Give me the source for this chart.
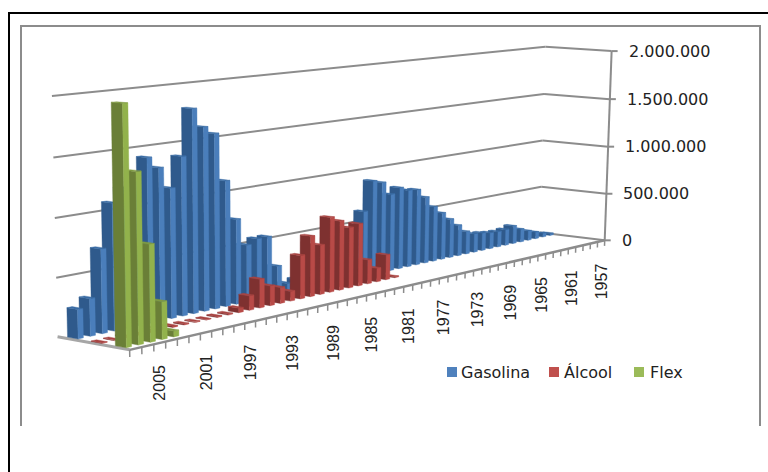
import numpy as np, plotly.graph_objects as go

years = list(range(2007, 1956, -1))
gasolina = [250000,320000,720000,1090000,1200000,1300000,1430000,1330000,1140000,1400000,1800000,1630000,1560000,1130000,770000,520000,560000,560000,270000,90000,110000,190000,100000,70000,80000,300000,450000,630000,910000,880000,750000,800000,760000,750000,660000,550000,470000,390000,310000,230000,190000,180000,165000,160000,165000,185000,135000,100000,70000,40000,20000]
alcool = [4000,5000,10000,12000,15000,15000,10000,8000,6000,5000,8000,10000,40000,130000,260000,180000,145000,90000,400000,560000,460000,700000,650000,570000,590000,230000,130000,240000,10000]+[0]*22
flex = [1990000,1430000,820000,320000,50000]+[0]*46
series_names = ["Gasolina","Álcool","Flex"]
value_ticks = [0,500000,1000000,1500000,2000000]
W,H = 768,472
VMAX = 2000000
Y0,Y1 = 1956.5,2007.5

# perspective of the 3-D box: (along years, depth, height) in 0..1 -> page position
def near_y(x): return 350-(x-129)*110/476
anchors = [((1,1,0),(129,350)),((1,0,0),(58,337)),((0,1,0),(605,240)),((0,0,0),(540,233)),
           ((1,0,1),(52,96)),((0,0,1),(545,46)),((0,1,1),(612,52))]
for yr,x in [(1997,250.5),(1989,332.5),(1981,408.5),(1973,477.5),(1965,541.5)]:
    anchors.append((((yr-Y0)/(Y1-Y0),1,0),(x,near_y(x))))
A=[]
for (u,v,w),(x,y) in anchors:
    A.append([u,v,w,1,0,0,0,0,-x*u,-x*v,-x*w,-x])
    A.append([0,0,0,0,u,v,w,1,-y*u,-y*v,-y*w,-y])
M=np.linalg.svd(np.array(A,float))[2][-1].reshape(3,4)
def pr(u,v,w):
    q=M@np.array([u,v,w,1.0])
    return q[0]/q[2],q[1]/q[2]
def yu(y): return (y-Y0)/(Y1-Y0)

GRID="#8C8C8C"
fig=go.Figure()
def poly(pts,color,name=None):
    xs=[p[0] for p in pts]+[pts[0][0]]
    ys=[p[1] for p in pts]+[pts[0][1]]
    fig.add_trace(go.Scatter(x=xs,y=ys,mode="lines",fill="toself",fillcolor=color,line=dict(color=color,width=0.4),hoverinfo="skip" if name is None else "text",text=name,showlegend=False))
def seg(a,b,color=GRID,width=2):
    fig.add_trace(go.Scatter(x=[a[0],b[0]],y=[a[1],b[1]],mode="lines",line=dict(color=color,width=width),hoverinfo="skip",showlegend=False))

# walls: value gridlines on back and side wall
for t in value_ticks:
    w=t/VMAX
    if t>0: seg(pr(1,0,w),pr(0,0,w))
    seg(pr(0,0,w),pr(0,1,w))
    a=pr(0,1,w); seg(a,(a[0]+6,a[1]))
seg(pr(0,1,0),pr(0,1,1))
# floor edges and year ticks
seg(pr(1,0,0),pr(1,1,0),"#A6A6A6",3)

BW,BD=0.43,0.45
def bars(vals,v_c,dark,light,top,name):
    for yr,val in sorted(zip(years,vals)):
        if val<=0: continue
        u0,u1=yu(yr-BW/2),yu(yr+BW/2)
        v0,v1=v_c-BD/6,v_c+BD/6
        w=val/VMAX
        txt=f"{name} {yr}: {val:,}".replace(",",".")
        poly([pr(u1,v0,0),pr(u1,v1,0),pr(u1,v1,w),pr(u1,v0,w)],dark,txt)
        poly([pr(u0,v1,0),pr(u1,v1,0),pr(u1,v1,w),pr(u0,v1,w)],light,txt)
        poly([pr(u0,v0,w),pr(u1,v0,w),pr(u1,v1,w),pr(u0,v1,w)],top,txt)
bars(gasolina,1/6,"#2F5A8C","#4A7EBB","#3A6CA5",series_names[0])
bars(alcool,3/6,"#7E3130","#B84A47","#A84442",series_names[1])
bars(flex,5/6,"#6A7F37","#92B24C","#7F9A42",series_names[2])

seg(pr(1,1,0),pr(0,1,0),"#8C8C8C",2.5)
for i in range(52):
    u=i/51
    seg(pr(u,1,0),pr(u,1,-0.03),"#8C8C8C",1.5)

ann=[]
for yr in years:
    if (yr-1957)%4==0:
        x,y=pr(yu(yr),1,0)
        ann.append(dict(text=str(yr),x=x,y=y+20,xref="x",yref="y",showarrow=False,textangle=-90,xanchor="center",yanchor="top",font=dict(family="Liberation Sans",size=16,color="#222")))
for t in value_ticks:
    x,y=pr(0,1,t/VMAX)
    ann.append(dict(text=f"{t:,}".replace(",","."),x=x+15,y=y,xref="x",yref="y",showarrow=False,xanchor="left",yanchor="middle",font=dict(family="DejaVu Sans",size=16,color="#222")))
shapes=[]
def rect(x0,y0,x1,y1,c):
    shapes.append(dict(type="rect",xref="x",yref="y",x0=x0,y0=y0,x1=x1,y1=y1,fillcolor=c,line=dict(width=0),layer="below"))
rect(8,12,10,472,"#000"); rect(8,12,768,14,"#000")
rect(20,25,22,426,"#8C8C8C"); rect(20,25,761,27,"#8C8C8C"); rect(759,25,761,426,"#8C8C8C")
for (x,c,n,tx) in [(447,"#4F81BD",series_names[0],459),(549,"#C0504D",series_names[1],562),(634,"#9BBB59",series_names[2],648)]:
    shapes.append(dict(type="rect",xref="x",yref="y",x0=x,y0=367,x1=x+10,y1=377,fillcolor=c,line=dict(width=0)))
    ann.append(dict(text=n,x=tx,y=372,xref="x",yref="y",showarrow=False,xanchor="left",yanchor="middle",font=dict(family="DejaVu Sans",size=16,color="#222")))
fig.update_layout(width=W,height=H,margin=dict(l=0,r=0,t=0,b=0),paper_bgcolor="white",plot_bgcolor="white",showlegend=False,
  xaxis=dict(range=[0,W],visible=False,fixedrange=True),yaxis=dict(range=[H,0],visible=False,fixedrange=True),
  annotations=ann,shapes=shapes)
fig.write_html("out.html",config=dict(displayModeBar=False),post_script="document.body.style.margin='0';document.documentElement.style.overflow='hidden';document.body.style.overflow='hidden';")
